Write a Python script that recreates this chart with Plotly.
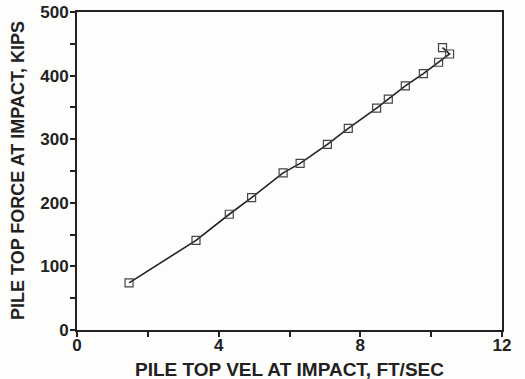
import plotly.graph_objects as go

vel = [1.47, 3.36, 4.30, 4.93, 5.82, 6.30, 7.07, 7.66, 8.46, 8.79, 9.27, 9.78, 10.21, 10.52, 10.32]
force = [74, 141, 182, 208, 247, 262, 292, 317, 349, 363, 384, 403, 421, 434, 444]

x_ticks = [0, 4, 8, 12]
y_ticks = [0, 100, 200, 300, 400, 500]
x_title = "PILE TOP VEL AT IMPACT, FT/SEC"
y_title = "PILE TOP FORCE AT IMPACT, KIPS"

ink = "#222222"
fnt = dict(family="Liberation Sans, Arial, sans-serif", size=18, color=ink, weight="bold")

fig = go.Figure(go.Scatter(
    x=vel, y=force, mode="lines+markers",
    line=dict(color=ink, width=1.6),
    marker=dict(symbol="square-open", size=8, color="#444444", line=dict(width=1.2)),
))

fig.update_layout(
    width=525, height=379,
    margin=dict(l=77, r=23, t=12, b=49),
    paper_bgcolor="#fdfdfb", plot_bgcolor="#fdfdfb",
    showlegend=False,
    font=fnt,
)
fig.update_xaxes(
    automargin=False,
    range=[0, 12], tickvals=x_ticks, ticktext=[str(v) for v in x_ticks],
    showgrid=False, zeroline=False, showline=True, linecolor=ink, linewidth=2, mirror=True,
    ticks="outside", ticklen=5, tickwidth=2, tickcolor=ink,
    minor=dict(tickvals=[2, 6, 10], ticks="outside", ticklen=5, tickwidth=2, tickcolor=ink),
    tickfont=dict(size=17), ticklabelstandoff=-6,
)
fig.update_yaxes(
    automargin=False,
    range=[0, 500], tickvals=y_ticks, ticktext=[str(v) for v in y_ticks],
    showgrid=False, zeroline=False, showline=True, linecolor=ink, linewidth=2, mirror=True,
    ticks="outside", ticklen=5, tickwidth=2, tickcolor=ink,
    minor=dict(tickvals=[50, 150, 250, 350, 450], ticks="outside", ticklen=5, tickwidth=2, tickcolor=ink),
    tickfont=dict(size=17), ticklabelstandoff=-2,
)
fig.add_annotation(text=x_title, xref="paper", yref="paper", x=0.5, y=0,
                   xanchor="center", yanchor="top", yshift=-27, showarrow=False,
                   font=dict(size=19))
fig.add_annotation(text=y_title, xref="paper", yref="paper", x=0, y=0.5,
                   xanchor="center", yanchor="middle", xshift=-59, textangle=-90,
                   showarrow=False, font=dict(size=18))

fig.write_html("out.html", config={"displayModeBar": False},
               post_script="document.body.style.margin='0';")
